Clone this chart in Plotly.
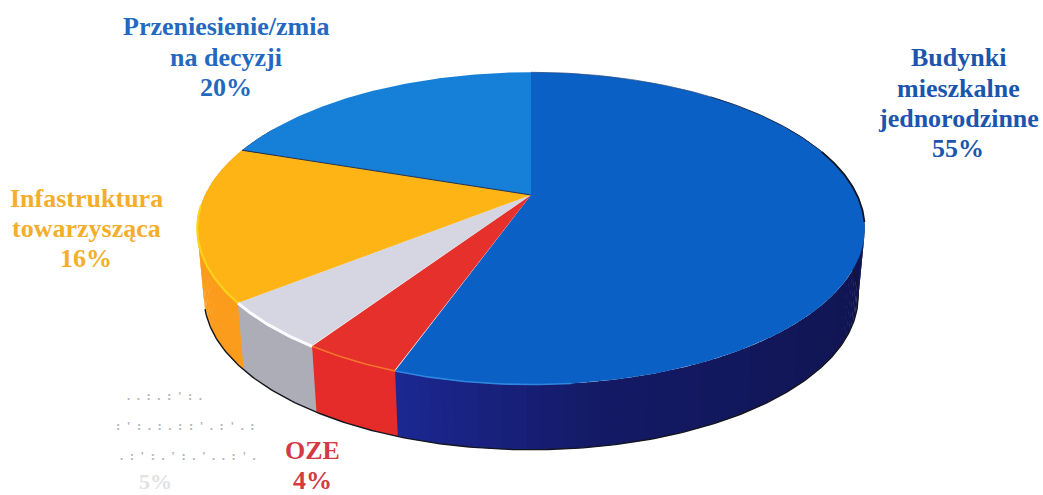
import numpy as np
import plotly.graph_objects as go

NB = "\u00a0"

# data (clockwise from 12 o'clock); printed labels are the rounded figures
categories = ["Budynki mieszkalne jednorodzinne", "OZE", "Nieczytelne", "Infastruktura towarzysząca", "Przeniesienie/zmia na decyzji"]
values = [55.4, 3.9, 4.9, 16.0, 19.8]
top_colors = ["#0a60c4", "#e5302c", "#d6d6e2", "#fdb414", "#1680d8"]
side_colors = ["#141a66", "#e62c2a", "#adadb8", "#fb9c1c", "#141a66"]
speck1 = (NB * 2).join([".", ".", ":", ".", ":", "'", ":", "."])
speck2 = (NB * 2).join([":", "'", ":", ".", ":", ".", ":", ":", "'", ".", ":", "'", ".", ":"])
speck3 = (NB * 2).join([".", ":", "'", ":", ".", "'", ":", ".", "'", ".", ".", ":", "'", "."])
label_lines = [
    ("Budynki", 958, 57, "#1c55ae", 26),
    ("mieszkalne", 958, 88, "#1c55ae", 26),
    ("jednorodzinne", 958, 118, "#1c55ae", 26),
    ("55%", 958, 148, "#1c55ae", 26),
    ("Przeniesienie/zmia", 226, 26, "#2468c0", 26),
    ("na decyzji", 226, 57, "#2468c0", 26),
    ("20%", 226, 87, "#2468c0", 26),
    ("Infastruktura", 86, 198, "#f4ae2c", 26),
    ("towarzysząca", 86, 228, "#f4ae2c", 26),
    ("16%", 86, 258, "#f4ae2c", 26),
    ("OZE", 312, 450, "#d33a44", 26),
    ("4%", 312, 480, "#d33a44", 26),
    (speck1, 164, 395, "#b4b4b4", 13),
    (speck2, 185, 425, "#b4b4b4", 13),
    (speck3, 188, 455, "#b4b4b4", 13),
    ("5%", 155, 481, "#e2e2e2", 22),
]

# projection of the pie disc
CX, CY, RX, RY, K, DEPTH, BOTTOM_SCALE = 531, 195, 326, 149, 0.214, 69, 0.98


def project(theta):
    u, v = np.sin(theta), -np.cos(theta)
    s = 1 / (1 - K * v)
    return CX + RX * u * s, CY + RY * v * s


def project_bottom(theta):
    x, y = project(theta)
    return CX + (x - CX) * BOTTOM_SCALE, CY + (y - CY) * BOTTOM_SCALE + DEPTH


fig = go.Figure()
edges = np.cumsum([0] + values) / sum(values) * 2 * np.pi


def wall_blue(deg):
    stops_d = [60, 100, 170, 198]
    r = np.interp(deg, stops_d, [16, 16, 20, 28])
    g = np.interp(deg, stops_d, [20, 20, 26, 40])
    b = np.interp(deg, stops_d, [72, 78, 100, 145])
    return "rgb(%d,%d,%d)" % (r, g, b)


def line(t, fn, color, width):
    x, y = fn(t)
    fig.add_trace(go.Scatter(x=x, y=y, mode="lines", line=dict(color=color, width=width),
                             hoverinfo="skip", showlegend=False))


# side wall: thin strips along the rim
for i, val in enumerate(values):
    a0, a1 = edges[i], edges[i + 1]
    n = max(6, int((a1 - a0) / 0.03))
    steps = np.linspace(a0, a1, n + 1)
    for t0, t1 in zip(steps[:-1], steps[1:]):
        tm = (t0 + t1) / 2
        if np.cos(tm) > 0.5:
            continue
        ts = np.linspace(t0, t1 + 0.006, 3)
        x, y = project(ts)
        xb, yb = project_bottom(ts)
        color = wall_blue(np.degrees(tm)) if i == 0 else side_colors[i]
        fig.add_trace(go.Scatter(x=np.r_[x, xb[::-1]], y=np.r_[y, yb[::-1]], mode="lines", fill="toself",
                                 fillcolor=color, line=dict(width=0), hoverinfo="skip", showlegend=False))

# dark outline under the wall
line(np.linspace(np.radians(68), edges[3] + np.radians(22), 300), project_bottom, "#14161f", 1.4)

# top face
for i, val in enumerate(values):
    ts = np.linspace(edges[i], edges[i + 1], 120)
    x, y = project(ts)
    fig.add_trace(go.Scatter(x=np.r_[CX, x, CX], y=np.r_[CY, y, CY], mode="lines", fill="toself",
                             fillcolor=top_colors[i], line=dict(width=0), name=categories[i],
                             text=f"{categories[i]}: {round(val)}%", hoverinfo="text", showlegend=False))

# dark rim, growing heavier toward the far right
line(np.linspace(np.radians(0), np.radians(40), 60), project, "#2c4a80", 0.7)
line(np.linspace(np.radians(40), np.radians(72), 50), project, "#1c2a4c", 1)
line(np.linspace(np.radians(72), np.radians(100), 50), project, "#10141f", 1.8)

# rim highlights
line(np.linspace(edges[1] - np.radians(25), edges[1], 40), project, "#2f86e0", 1.6)
line(np.linspace(edges[1], edges[2], 30), project, "#f7742a", 1.6)
line(np.linspace(edges[2], edges[3], 30), project, "#fbfbff", 3)
line(np.linspace(edges[3], edges[3] + np.radians(35), 40), project, "#ffd21a", 2.2)

# separator between the top-left slices
x, y = project(np.array([edges[4]]))
fig.add_trace(go.Scatter(x=[CX, x[0]], y=[CY, y[0]], mode="lines", line=dict(color="#243050", width=1),
                         hoverinfo="skip", showlegend=False))

for txt, lx, ly, col, size in label_lines:
    fig.add_annotation(x=lx, y=ly, text=txt, showarrow=False, align="center",
                       font=dict(family="Liberation Serif", size=size, color=col, weight="bold"))

fig.update_layout(
    width=1043, height=495, margin=dict(l=0, r=0, t=0, b=0),
    paper_bgcolor="white", plot_bgcolor="white", showlegend=False,
    xaxis=dict(range=[0, 1043], visible=False, fixedrange=True),
    yaxis=dict(range=[495, 0], visible=False, fixedrange=True),
)
fig.write_html("out.html", config=dict(displayModeBar=False),
               post_script="document.body.style.margin='0';document.body.style.overflow='hidden';")
